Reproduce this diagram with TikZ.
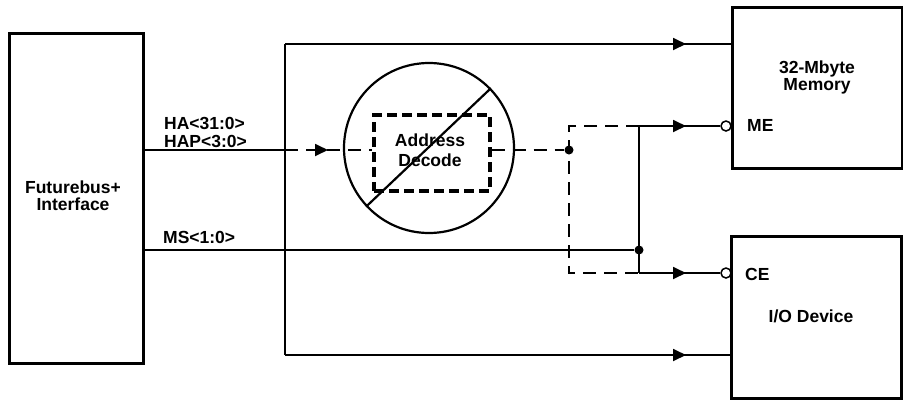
\documentclass[tikz,border=0pt]{standalone}
\usepackage{fontspec}
\setmainfont{Liberation Sans}
\usetikzlibrary{arrows.meta,decorations.markings}
\begin{document}
\begin{tikzpicture}[x=1pt,y=-1pt,
  box/.style={draw,line width=3pt,inner sep=0pt},
  lbl/.style={font=\fontsize{17.5}{18}\selectfont\bfseries,inner sep=0pt},
  sig/.style={line width=1.8pt},
  dsig/.style={line width=1.8pt,dash pattern=on 13pt off 8pt},
  tipat/.style={postaction={decorate,decoration={markings,mark=at position #1 with {\arrow{Triangle[length=13pt,width=12pt]}}}}},
  dotn/.style={circle,fill,inner sep=0pt,minimum size=9pt},
  bub/.style={circle,draw,line width=1.5pt,fill=white,inner sep=0pt,minimum size=10pt}]
\useasboundingbox (0,0) rectangle (903,400);

% boxes
\node[box,minimum width=134pt,minimum height=330pt] (fb) at (76,198) {};
\node[box,minimum width=170pt,minimum height=161pt] (mem) at (817,87.5) {};
\node[box,minimum width=170pt,minimum height=162pt] (io) at (816,317) {};
\node[draw,circle,line width=2.2pt,minimum size=170pt,inner sep=0pt] (dec) at (429,148) {};
\node[draw,line width=3.2pt,dash pattern=on 10pt off 5pt,minimum width=116pt,minimum height=76pt,inner sep=0pt] (adr) at (432,153) {};
\draw[line width=2.2pt] (dec.223) -- (dec.44);

% texts
\node[lbl,anchor=base] (t1) at (73,193) {Futurebus+};
\node[lbl,anchor=base] (t2) at (73,210) {Interface};
\node[lbl,anchor=base] (t3) at (817,73) {32-Mbyte};
\node[lbl,anchor=base] (t4) at (817,90) {Memory};
\node[lbl,anchor=base] (t5) at (811,322) {I/O Device};
\node[lbl,anchor=base] (t6) at (430,146) {Address};
\node[lbl,anchor=base] (t7) at (430,166) {Decode};
\node[lbl,anchor=base west] (t8) at (164,129) {HA<31:0>};
\node[lbl,anchor=base west] (t9) at (164,147) {HAP<3:0>};
\node[lbl,anchor=base west] (t10) at (163,243) {MS<1:0>};
\node[lbl,anchor=base west] (t11) at (747,131) {ME};
\node[lbl,anchor=base west] (t12) at (745,280) {CE};

% coordinates
\coordinate (s) at (285,150);
\coordinate (st) at (285,44);
\coordinate (sb) at (285,355);
\node[dotn] (d1) at (569,150) {};
\node[dotn] (d2) at (639,250) {};
\coordinate (dt) at (569,126);
\coordinate (db) at (569,273);
\coordinate (jt) at (639,126);
\coordinate (jb) at (639,273);
\node[bub] (me) at (726,126) {};
\node[bub] (ce) at (726,273) {};

% HA bus
\draw[sig] (fb.east |- s) -- (s);
\draw[sig] (st) -- (sb);
\draw[sig,tipat=401pt] (st) -- (st -| mem.west);
\draw[sig,tipat=401pt] (sb) -- (sb -| io.west);
\draw[dsig,tipat=43pt] (s) -- (s -| adr.west);
\draw[dsig] (adr.east |- s) -- (d1);
\draw[dsig] (jt) -- (dt) -- (db) -- (jb);
\draw[sig] (jt) -- (jb);
\draw[sig,tipat=47pt] (jt) -- (me.west);
\draw[sig,tipat=47pt] (jb) -- (ce.west);
% MS
\draw[sig] (fb.east |- d2) -- (d2);
\end{tikzpicture}
\end{document}
